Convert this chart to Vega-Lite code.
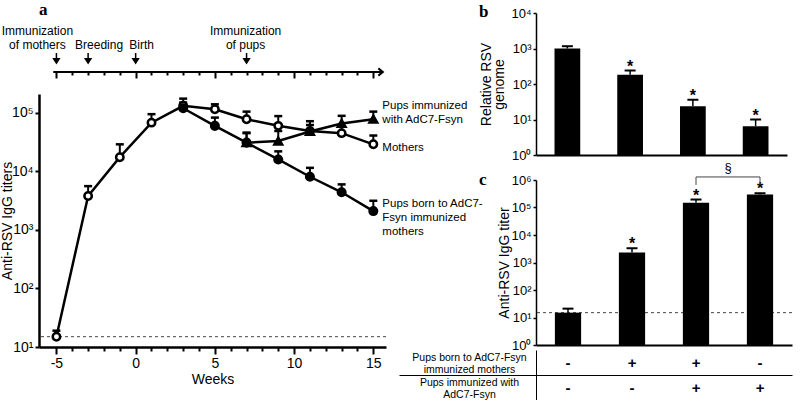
{
  "$schema": "https://vega.github.io/schema/vega-lite/v6.json",
  "background": "white",
  "padding": {"left": 0, "top": 0, "right": 5, "bottom": 0},
  "config": {
    "font": "Liberation Sans",
    "view": {"stroke": null},
    "axis": {"domainColor": "black", "tickColor": "black", "labelColor": "black", "titleColor": "black", "grid": false, "titleFontWeight": "normal", "labelOverlap": false},
    "title": {"color": "black"}
  },
  "datasets": {
    "series": [
      {"series": "Mothers", "week": -5, "titer": 15, "upper": 19},
      {"series": "Mothers", "week": -3, "titer": 3800, "upper": 5600},
      {"series": "Mothers", "week": -1, "titer": 17500, "upper": 29000},
      {"series": "Mothers", "week": 1, "titer": 68000, "upper": 95000},
      {"series": "Mothers", "week": 3, "titer": 132000, "upper": 175000},
      {"series": "Mothers", "week": 5, "titer": 115000, "upper": 140000},
      {"series": "Mothers", "week": 7, "titer": 78000, "upper": 105000},
      {"series": "Mothers", "week": 9, "titer": 60000, "upper": 88000},
      {"series": "Mothers", "week": 11, "titer": 49000, "upper": 62000},
      {"series": "Mothers", "week": 13, "titer": 45000, "upper": 58000},
      {"series": "Mothers", "week": 15, "titer": 29000, "upper": 41000},
      {"series": "Pups born", "week": 3, "titer": 120000, "upper": 150000},
      {"series": "Pups born", "week": 5, "titer": 60000, "upper": 83000},
      {"series": "Pups born", "week": 7, "titer": 31000, "upper": 45000},
      {"series": "Pups born", "week": 9, "titer": 16000, "upper": 22000},
      {"series": "Pups born", "week": 11, "titer": 8100, "upper": 11500},
      {"series": "Pups born", "week": 13, "titer": 4400, "upper": 6000},
      {"series": "Pups born", "week": 15, "titer": 2100, "upper": 3150},
      {"series": "Pups immunized", "week": 7, "titer": 31000, "upper": 46000},
      {"series": "Pups immunized", "week": 9, "titer": 33000, "upper": 49000},
      {"series": "Pups immunized", "week": 11, "titer": 48000, "upper": 72000},
      {"series": "Pups immunized", "week": 13, "titer": 66000, "upper": 89000},
      {"series": "Pups immunized", "week": 15, "titer": 78000, "upper": 105000}
    ],
    "panelB": [
      {"group": "1", "value": 1000, "upper": 1160, "sig": ""},
      {"group": "2", "value": 182, "upper": 240, "sig": "*"},
      {"group": "3", "value": 23.5, "upper": 36, "sig": "*"},
      {"group": "4", "value": 6.5, "upper": 10, "sig": "*"}
    ],
    "panelC": [
      {"group": "1", "value": 15, "upper": 21, "sig": ""},
      {"group": "2", "value": 2300, "upper": 3300, "sig": "*"},
      {"group": "3", "value": 150000, "upper": 195000, "sig": "*"},
      {"group": "4", "value": 300000, "upper": 330000, "sig": "*"}
    ],
    "table": [
      {"group": "1", "row": "born", "sym": "-"},
      {"group": "2", "row": "born", "sym": "+"},
      {"group": "3", "row": "born", "sym": "+"},
      {"group": "4", "row": "born", "sym": "-"},
      {"group": "1", "row": "immunized", "sym": "-"},
      {"group": "2", "row": "immunized", "sym": "-"},
      {"group": "3", "row": "immunized", "sym": "+"},
      {"group": "4", "row": "immunized", "sym": "+"}
    ],
    "events": [
      {"week": -5, "row": "l1", "text": "Immunization", "event": "mothers"},
      {"week": -5, "row": "l2", "text": "of mothers", "event": "mothers"},
      {"week": -3, "row": "l2", "text": "Breeding", "event": "breeding"},
      {"week": 0, "row": "l2", "text": "Birth", "event": "birth"},
      {"week": 7, "row": "l1", "text": "Immunization", "event": "pups"},
      {"week": 7, "row": "l2", "text": "of pups", "event": "pups"}
    ]
  },
  "hconcat": [
    {
      "vconcat": [
        {
          "width": 347,
          "height": 59,
          "title": {"text": "a", "anchor": "start", "frame": "group", "font": "Liberation Serif", "fontSize": 17, "fontWeight": "bold", "offset": -5.5},
          "resolve": {"axis": {"x": "independent"}},
          "layer": [
            {
              "data": {"values": [{"from": -5.2, "to": 15.6, "row": "line"}]},
              "mark": {"type": "rule", "color": "black", "strokeWidth": 2},
              "encoding": {
                "x": {"field": "from", "type": "quantitative", "scale": {"domain": [-6.1, 15.8], "nice": false, "zero": false},
                  "axis": {"orient": "bottom", "domain": false, "labels": false, "title": null, "grid": false,
                    "values": [-5, 0, 5, 10, 15], "tickSize": 6, "tickWidth": 2}},
                "x2": {"field": "to"},
                "y": {"field": "row", "type": "nominal", "scale": {"type": "point", "domain": ["l1", "l2", "arrow", "line"], "padding": 0.607, "align": 1}, "axis": null}
              }
            },
            {
              "data": {"values": [{"week": 15.6, "row": "line"}]},
              "mark": {"type": "point", "shape": "M-1,-0.8L0,0L-1,0.8", "size": 81, "filled": false, "stroke": "black", "strokeWidth": 2, "opacity": 1},
              "encoding": {
                "x": {"field": "week", "type": "quantitative",
                  "axis": {"orient": "bottom", "domain": false, "labels": false, "title": null, "grid": false,
                    "values": [-4,-3,-2,-1,1,2,3,4,6,7,8,9,11,12,13,14], "tickSize": 3, "tickWidth": 2}},
                "y": {"field": "row", "type": "nominal"}
              }
            },
            {
              "data": {"values": [{"week": -5, "row": "arrow"}, {"week": -3, "row": "arrow"}, {"week": 0, "row": "arrow"}, {"week": 7, "row": "arrow"}]},
              "mark": {"type": "point", "shape": "M0,-1L0,0.3M-0.55,0.15L0,1L0.55,0.15Z", "size": 100, "filled": true, "fill": "black", "stroke": "black", "strokeWidth": 1.5, "opacity": 1},
              "encoding": {"x": {"field": "week", "type": "quantitative", "axis": null}, "y": {"field": "row", "type": "nominal"}}
            },
            {
              "data": {"name": "events"},
              "transform": [{"filter": "datum.event === 'mothers'"}],
              "mark": {"type": "text", "fontSize": 12, "dx": -19, "dy": 1, "color": "black"},
              "encoding": {"x": {"field": "week", "type": "quantitative", "axis": null}, "y": {"field": "row", "type": "nominal"}, "text": {"field": "text"}}
            },
            {
              "data": {"name": "events"},
              "transform": [{"filter": "datum.event === 'breeding'"}],
              "mark": {"type": "text", "fontSize": 12, "dx": 11, "dy": 1, "color": "black"},
              "encoding": {"x": {"field": "week", "type": "quantitative", "axis": null}, "y": {"field": "row", "type": "nominal"}, "text": {"field": "text"}}
            },
            {
              "data": {"name": "events"},
              "transform": [{"filter": "datum.event === 'birth'"}],
              "mark": {"type": "text", "fontSize": 12, "dx": 6, "dy": 1, "color": "black"},
              "encoding": {"x": {"field": "week", "type": "quantitative", "axis": null}, "y": {"field": "row", "type": "nominal"}, "text": {"field": "text"}}
            },
            {
              "data": {"name": "events"},
              "transform": [{"filter": "datum.event === 'pups'"}],
              "mark": {"type": "text", "fontSize": 12, "dx": -1, "dy": 1, "color": "black"},
              "encoding": {"x": {"field": "week", "type": "quantitative", "axis": null}, "y": {"field": "row", "type": "nominal"}, "text": {"field": "text"}}
            }
          ]
        },
        {
          "width": 347,
          "height": 253,
          "resolve": {"axis": {"x": "independent"}},
          "layer": [
            {
              "data": {"values": [{}]},
              "mark": {"type": "rule", "strokeDash": [3, 3], "color": "#444", "strokeWidth": 1},
              "encoding": {"y": {"datum": 15, "type": "quantitative"}}
            },
            {
              "data": {"name": "series"},
              "mark": {"type": "line", "color": "black", "strokeWidth": 2.5},
              "encoding": {
                "x": {"field": "week", "type": "quantitative", "scale": {"domain": [-6.1, 15.8], "nice": false, "zero": false},
                  "axis": {"orient": "bottom", "values": [-5, 0, 5, 10, 15],
                    "labelExpr": "'' + datum.value",
                    "tickSize": 7, "tickWidth": 2, "domainWidth": 2.5, "labelFontSize": 14, "labelPadding": 2,
                    "title": "Weeks", "titleFontSize": 14, "titlePadding": 2}},
                "y": {"field": "titer", "type": "quantitative", "scale": {"type": "log", "domain": [10, 210000], "nice": false},
                  "axis": {"values": [10, 100, 1000, 10000, 100000],
                    "labelExpr": "'10' + ['⁰','¹','²','³','⁴','⁵','⁶'][round(log(datum.value)/LN10)]",
                    "title": "Anti-RSV IgG titers", "titleFontSize": 14, "titlePadding": -3,
                    "labelFontSize": 14, "labelPadding": 2, "tickSize": 4, "tickWidth": 2, "domainWidth": 2.5}},
                "detail": {"field": "series", "type": "nominal"}
              }
            },
            {
              "data": {"name": "series"},
              "mark": {"type": "rule", "color": "black", "strokeWidth": 2},
              "encoding": {
                "x": {"field": "week", "type": "quantitative",
                  "axis": {"orient": "bottom", "domain": false, "labels": false, "title": null, "grid": false,
                    "values": [-4,-3,-2,-1,1,2,3,4,6,7,8,9,11,12,13,14], "tickSize": 4, "tickWidth": 2}},
                "y": {"field": "titer", "type": "quantitative"}, "y2": {"field": "upper"}}
            },
            {
              "data": {"name": "series"},
              "mark": {"type": "tick", "orient": "horizontal", "color": "black", "size": 8, "thickness": 2.5, "opacity": 1},
              "encoding": {"x": {"field": "week", "type": "quantitative", "axis": null}, "y": {"field": "upper", "type": "quantitative"}}
            },
            {
              "data": {"name": "series"},
              "mark": {"type": "point", "filled": true, "stroke": "black", "strokeWidth": 2.5, "opacity": 1},
              "encoding": {
                "x": {"field": "week", "type": "quantitative", "axis": null},
                "y": {"field": "titer", "type": "quantitative"},
                "shape": {"field": "series", "type": "nominal", "scale": {"domain": ["Mothers", "Pups born", "Pups immunized"], "range": ["circle", "circle", "triangle-up"]}, "legend": null},
                "fill": {"field": "series", "type": "nominal", "scale": {"domain": ["Mothers", "Pups born", "Pups immunized"], "range": ["white", "black", "black"]}, "legend": null},
                "size": {"field": "series", "type": "nominal", "scale": {"domain": ["Mothers", "Pups born", "Pups immunized"], "range": [55, 60, 80]}, "legend": null}
              }
            },
            {
              "data": {"name": "series"},
              "transform": [{"filter": "datum.week === 15 && datum.series === 'Pups immunized'"}],
              "mark": {"type": "text", "align": "left", "baseline": "middle", "dx": 9, "dy": -13, "fontSize": 11.5, "lineHeight": 14, "color": "black"},
              "encoding": {"x": {"field": "week", "type": "quantitative", "axis": null}, "y": {"field": "titer", "type": "quantitative"}, "text": {"value": ["Pups immunized", "with AdC7-Fsyn"]}}
            },
            {
              "data": {"name": "series"},
              "transform": [{"filter": "datum.week === 15 && datum.series === 'Mothers'"}],
              "mark": {"type": "text", "align": "left", "baseline": "middle", "dx": 9, "dy": 4, "fontSize": 11.5, "color": "black"},
              "encoding": {"x": {"field": "week", "type": "quantitative", "axis": null}, "y": {"field": "titer", "type": "quantitative"}, "text": {"value": "Mothers"}}
            },
            {
              "data": {"name": "series"},
              "transform": [{"filter": "datum.week === 15 && datum.series === 'Pups born'"}],
              "mark": {"type": "text", "align": "left", "baseline": "middle", "dx": 9, "dy": -7, "fontSize": 11.5, "lineHeight": 14, "color": "black"},
              "encoding": {"x": {"field": "week", "type": "quantitative", "axis": null}, "y": {"field": "titer", "type": "quantitative"}, "text": {"value": ["Pups born to AdC7-", "Fsyn immunized", "mothers"]}}
            }
          ]
        }
      ],
      "spacing": 22,
      "bounds": "flush"
    },
    {
      "vconcat": [
        {
          "width": 251,
          "height": 142,
          "title": {"text": "b", "anchor": "start", "frame": "group", "font": "Liberation Serif", "fontSize": 17, "fontWeight": "bold", "dx": -57, "offset": -14},
          "data": {"name": "panelB"},
          "layer": [
            {
              "mark": {"type": "bar", "color": "black"},
              "encoding": {
                "x": {"field": "group", "type": "nominal", "scale": {"type": "band", "paddingInner": 0.59, "paddingOuter": 0.295},
                  "axis": {"labels": false, "ticks": false, "title": null, "domainWidth": 2}},
                "y": {"field": "value", "type": "quantitative", "scale": {"type": "log", "domain": [1, 10000], "nice": false},
                  "axis": {"values": [1, 10, 100, 1000, 10000],
                    "labelExpr": "'10' + ['⁰','¹','²','³','⁴','⁵','⁶'][round(log(datum.value)/LN10)]",
                    "title": ["Relative RSV", "genome"], "titleFontSize": 14, "titleLineHeight": 13, "titlePadding": 4,
                    "labelFontSize": 13, "labelPadding": 2, "tickSize": 3, "tickWidth": 1.5, "domainWidth": 1.5}},
                "y2": {"datum": 1}
              }
            },
            {
              "mark": {"type": "rule", "color": "black", "strokeWidth": 1.5},
              "encoding": {"x": {"field": "group", "type": "nominal"}, "y": {"field": "value", "type": "quantitative"}, "y2": {"field": "upper"}}
            },
            {
              "mark": {"type": "tick", "orient": "horizontal", "color": "black", "size": 11, "thickness": 2, "opacity": 1},
              "encoding": {"x": {"field": "group", "type": "nominal"}, "y": {"field": "upper", "type": "quantitative"}}
            },
            {
              "mark": {"type": "text", "fontSize": 16, "fontWeight": "bold", "baseline": "alphabetic", "dy": 1, "color": "black"},
              "encoding": {"x": {"field": "group", "type": "nominal"}, "y": {"field": "upper", "type": "quantitative"}, "text": {"field": "sig"}}
            }
          ]
        },
        {
          "vconcat": [
            {
              "width": 256,
              "height": 165,
              "title": {"text": "c", "anchor": "start", "frame": "group", "font": "Liberation Serif", "fontSize": 17, "fontWeight": "bold", "dx": -57, "offset": -27},
              "layer": [
                {
                  "data": {"values": [{}]},
                  "mark": {"type": "rule", "strokeDash": [3, 3], "color": "#444", "strokeWidth": 1},
                  "encoding": {"y": {"datum": 15, "type": "quantitative"}}
                },
                {
                  "data": {"name": "panelC"},
                  "mark": {"type": "bar", "color": "black"},
                  "encoding": {
                    "x": {"field": "group", "type": "nominal", "scale": {"type": "band", "paddingInner": 0.59, "paddingOuter": 0.295},
                      "axis": {"labels": false, "ticks": false, "title": null, "domainWidth": 2}},
                    "y": {"field": "value", "type": "quantitative", "scale": {"type": "log", "domain": [1, 1000000], "nice": false},
                      "axis": {"values": [1, 10, 100, 1000, 10000, 100000, 1000000],
                        "labelExpr": "'10' + ['⁰','¹','²','³','⁴','⁵','⁶'][round(log(datum.value)/LN10)]",
                        "title": "Anti-RSV IgG titer", "titleFontSize": 14, "titlePadding": -1,
                        "labelFontSize": 13, "labelPadding": 2, "tickSize": 3, "tickWidth": 1.5, "domainWidth": 1.5}},
                    "y2": {"datum": 1}
                  }
                },
                {
                  "data": {"name": "panelC"},
                  "mark": {"type": "rule", "color": "black", "strokeWidth": 1.5},
                  "encoding": {"x": {"field": "group", "type": "nominal"}, "y": {"field": "value", "type": "quantitative"}, "y2": {"field": "upper"}}
                },
                {
                  "data": {"name": "panelC"},
                  "mark": {"type": "tick", "orient": "horizontal", "color": "black", "size": 11, "thickness": 2, "opacity": 1},
                  "encoding": {"x": {"field": "group", "type": "nominal"}, "y": {"field": "upper", "type": "quantitative"}}
                },
                {
                  "data": {"name": "panelC"},
                  "mark": {"type": "text", "fontSize": 16, "fontWeight": "bold", "baseline": "alphabetic", "dy": 1, "color": "black"},
                  "encoding": {"x": {"field": "group", "type": "nominal"}, "y": {"field": "upper", "type": "quantitative"}, "text": {"field": "sig"}}
                },
                {
                  "data": {"values": [{"from": "3", "to": "4", "top": 1290000, "bottom": 660000}]},
                  "mark": {"type": "rule", "color": "#444", "strokeWidth": 1},
                  "encoding": {"x": {"field": "from", "type": "nominal"}, "x2": {"field": "to"}, "y": {"field": "top", "type": "quantitative"}}
                },
                {
                  "data": {"values": [{"from": "3", "to": "4", "top": 1290000, "bottom": 660000}]},
                  "mark": {"type": "rule", "color": "#444", "strokeWidth": 1},
                  "encoding": {"x": {"field": "from", "type": "nominal"}, "y": {"field": "bottom", "type": "quantitative"}, "y2": {"field": "top"}}
                },
                {
                  "data": {"values": [{"from": "3", "to": "4", "top": 1290000, "bottom": 660000}]},
                  "mark": {"type": "rule", "color": "#444", "strokeWidth": 1},
                  "encoding": {"x": {"field": "to", "type": "nominal"}, "y": {"field": "bottom", "type": "quantitative"}, "y2": {"field": "top"}}
                },
                {
                  "data": {"values": [{"from": "3", "to": "4", "top": 1290000, "bottom": 660000}]},
                  "mark": {"type": "text", "fontSize": 13, "baseline": "bottom", "dx": 32, "dy": -2, "color": "black"},
                  "encoding": {"x": {"field": "from", "type": "nominal"}, "y": {"field": "top", "type": "quantitative"}, "text": {"value": "§"}}
                }
              ]
            },
            {
              "width": 256,
              "height": 50,
              "data": {"name": "table"},
              "mark": {"type": "text", "fontSize": 15, "fontWeight": "bold", "color": "black"},
              "encoding": {
                "x": {"field": "group", "type": "nominal", "scale": {"type": "band", "paddingInner": 0.59, "paddingOuter": 0.295}, "axis": null},
                "y": {"field": "row", "type": "nominal", "scale": {"type": "band", "domain": ["born", "immunized"], "paddingInner": 0, "paddingOuter": 0},
                  "axis": {"title": null, "domainWidth": 1, "bandPosition": 0, "tickSize": 137, "tickWidth": 1,
                    "tickOpacity": {"condition": {"test": "datum.value === 'immunized'", "value": 1}, "value": 0},
                    "grid": true, "gridColor": "black", "gridWidth": 1,
                    "gridOpacity": {"condition": {"test": "datum.value === 'immunized'", "value": 1}, "value": 0},
                    "labelExpr": "datum.value === 'born' ? ['Pups born to AdC7-Fsyn', 'immunized mothers'] : ['Pups immunized with', 'AdC7-Fsyn']",
                    "labelAlign": "center", "labelBaseline": "middle", "labelPadding": -70, "labelOffset": -4.5, "labelFontSize": 10.5, "labelLineHeight": 11.5}},
                "text": {"field": "sym"}
              }
            }
          ],
          "spacing": 5,
          "bounds": "flush"
        }
      ],
      "spacing": 25,
      "bounds": "flush"
    }
  ],
  "spacing": 497,
  "bounds": "flush"
}
